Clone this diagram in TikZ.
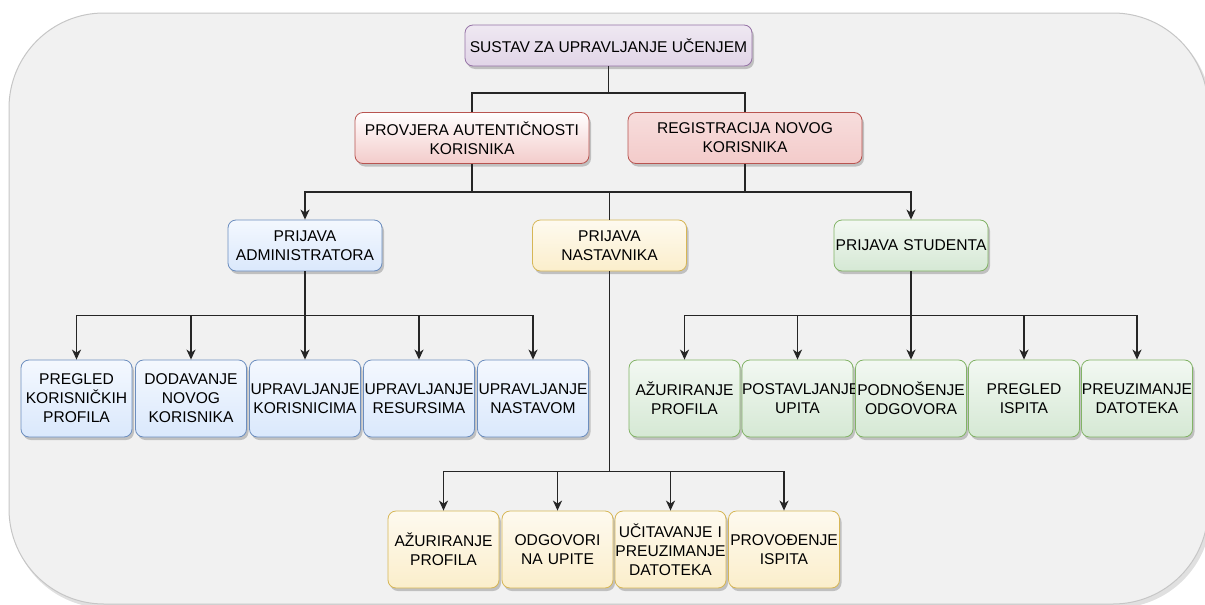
\documentclass[tikz,border=0pt]{standalone}
\usepackage{fontspec}
\setmainfont{Liberation Sans}
\usetikzlibrary{arrows.meta,shadows}

\definecolor{bgfill}{HTML}{F1F1F1}
\definecolor{bgline}{HTML}{C6C6C6}
\definecolor{purplefill}{HTML}{E1D5E7}
\definecolor{purpleline}{HTML}{9673A6}
\definecolor{redfill}{HTML}{F3CBCA}
\definecolor{redline}{HTML}{B85450}
\definecolor{bluefill}{HTML}{DAE8FC}
\definecolor{blueline}{HTML}{6C8EBF}
\definecolor{yellowfill}{HTML}{FBEECB}
\definecolor{yellowline}{HTML}{D6B656}
\definecolor{greenfill}{HTML}{D5E8D4}
\definecolor{greenline}{HTML}{82B366}

\begin{document}
\begin{tikzpicture}[
    x=1pt, y=-1pt,
    box/.style={rectangle, draw, rounded corners=8pt, line width=0.8pt, align=center, inner sep=0pt,
        font=\fontsize{15.6}{19}\selectfont,
        drop shadow={shadow xshift=2pt, shadow yshift=-3pt, opacity=0.2, fill=black}},
    sysbox/.style={box, draw=purpleline, top color=purplefill!55!white, bottom color=purplefill,
        minimum width=287pt, minimum height=41pt},
    authbox/.style={box, draw=redline, minimum width=234pt, minimum height=51pt},
    loginbox/.style={box, text width=154pt, minimum height=51pt},
    leaf/.style={box, text width=111pt, minimum height=77pt},
    admin/.style={draw=blueline, top color=bluefill!30!white, bottom color=bluefill},
    teacher/.style={draw=yellowline, top color=yellowfill!30!white, bottom color=yellowfill},
    student/.style={draw=greenline, top color=greenfill!30!white, bottom color=greenfill},
    line/.style={line width=1.5pt, draw=black!85},
    arrow/.style={line, -{Stealth[length=10pt, width=9pt, inset=3pt]}}
]
    \useasboundingbox (0,0) rectangle (1205,605);

    % background
    \fill[black, opacity=0.12, rounded corners=95pt] (11,16) rectangle (1211,608);
    \filldraw[fill=bgfill, draw=bgline, line width=1pt, rounded corners=95pt] (9,13) rectangle (1208,604);

    % top level
    \node[sysbox] (sys) at (608.5,45.5) {SUSTAV ZA UPRAVLJANJE UČENJEM};

    \node[authbox, top color=white, bottom color=redfill] (prov) at (472,138) {PROVJERA AUTENTIČNOSTI\\KORISNIKA};
    \node[authbox, top color=redfill!65!white, bottom color=redfill] (reg) at (745,138) {REGISTRACIJA NOVOG\\KORISNIKA};

    % logins
    \node[loginbox, admin] (adm) at (305,245.5) {PRIJAVA\\ADMINISTRATORA};
    \node[loginbox, teacher] (nast) at (609.5,245.5) {PRIJAVA\\NASTAVNIKA};
    \node[loginbox, student] (stud) at (911,245.5) {PRIJAVA STUDENTA};

    % administrator
    \node[leaf, admin] (a1) at (76.5,398.5) {PREGLED\\KORISNIČKIH\\PROFILA};
    \node[leaf, admin] (a2) at (191,398.5) {DODAVANJE\\NOVOG\\KORISNIKA};
    \node[leaf, admin] (a3) at (305,398.5) {UPRAVLJANJE\\KORISNICIMA};
    \node[leaf, admin] (a4) at (419,398.5) {UPRAVLJANJE\\RESURSIMA};
    \node[leaf, admin] (a5) at (533,398.5) {UPRAVLJANJE\\NASTAVOM};

    % student
    \node[leaf, student] (s1) at (684.5,398.5) {AŽURIRANJE\\PROFILA};
    \node[leaf, student] (s2) at (797.5,398.5) {POSTAVLJANJE\\UPITA};
    \node[leaf, student] (s3) at (911,398.5) {PODNOŠENJE\\ODGOVORA};
    \node[leaf, student] (s4) at (1024,398.5) {PREGLED\\ISPITA};
    \node[leaf, student] (s5) at (1137,398.5) {PREUZIMANJE\\DATOTEKA};

    % nastavnik
    \node[leaf, teacher] (t1) at (443.5,549.5) {AŽURIRANJE\\PROFILA};
    \node[leaf, teacher] (t2) at (557.5,549.5) {ODGOVORI\\NA UPITE};
    \node[leaf, teacher] (t3) at (670.5,549.5) {UČITAVANJE I\\PREUZIMANJE\\DATOTEKA};
    \node[leaf, teacher] (t4) at (784,549.5) {PROVOĐENJE\\ISPITA};

    % connectors
    \draw[line] (sys.south) -- ++(0,26.5) coordinate (b1);
    \draw[line] (b1) -| (prov.north);
    \draw[line] (b1) -| (reg.north);

    \draw[line] (prov.south) -- ++(0,28) coordinate (b2);
    \draw[line] (reg.south) -- ++(0,28) coordinate (b3);
    \draw[arrow] (b2) -| (adm.north);
    \draw[line] (b2) -| (nast.north);
    \draw[line] (b3) -| (nast.north);
    \draw[arrow] (b3) -| (stud.north);

    \draw[line] (adm.south) -- ++(0,44) coordinate (ba);
    \draw[arrow] (ba) -| (a1.north);
    \draw[arrow] (ba) -| (a2.north);
    \draw[arrow] (ba) -- (a3.north);
    \draw[arrow] (ba) -| (a4.north);
    \draw[arrow] (ba) -| (a5.north);

    \draw[line] (stud.south) -- ++(0,44) coordinate (bs);
    \draw[arrow] (bs) -| (s1.north);
    \draw[arrow] (bs) -| (s2.north);
    \draw[arrow] (bs) -- (s3.north);
    \draw[arrow] (bs) -| (s4.north);
    \draw[arrow] (bs) -| (s5.north);

    \draw[line] (nast.south) -- ++(0,200) coordinate (bn);
    \draw[arrow] (bn) -| (t1.north);
    \draw[arrow] (bn) -| (t2.north);
    \draw[arrow] (bn) -| (t3.north);
    \draw[arrow] (bn) -| (t4.north);
\end{tikzpicture}
\end{document}
